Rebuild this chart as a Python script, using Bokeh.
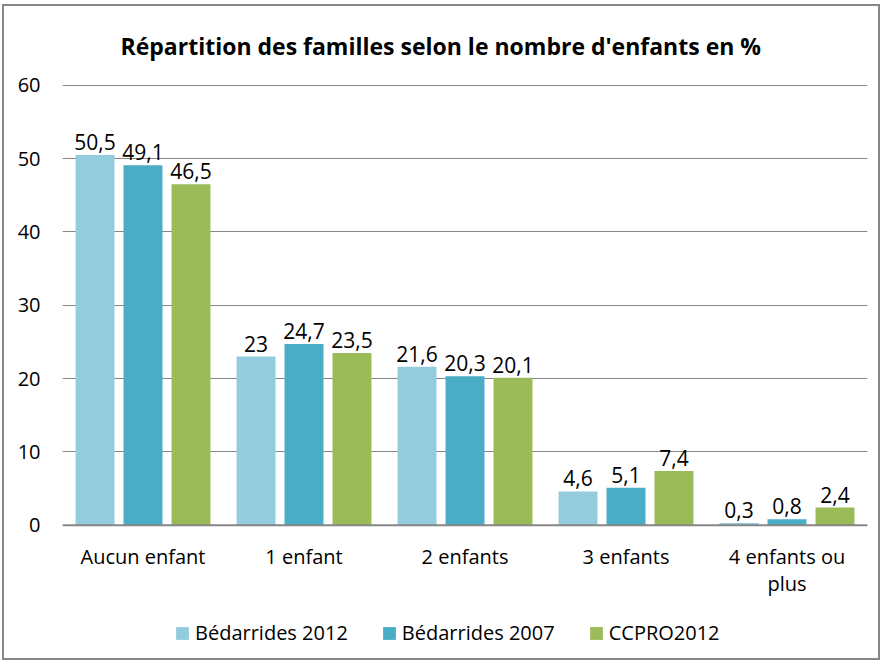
from bokeh.plotting import figure
from bokeh.models import (ColumnDataSource, FactorRange, Range1d, FixedTicker, Legend,
                          LegendItem, Span)
from bokeh.transform import dodge
from bokeh.core.properties import value
from bokeh.embed import file_html
from bokeh.resources import INLINE

categories = ["Aucun enfant", "1 enfant", "2 enfants", "3 enfants", "4 enfants ou plus"]
tick_line1 = ["Aucun enfant", "1 enfant", "2 enfants", "3 enfants", "4 enfants ou"]
tick_line2 = ["", "", "", "", "plus"]
bedarrides_2012 = [50.5, 23, 21.6, 4.6, 0.3]
bedarrides_2007 = [49.1, 24.7, 20.3, 5.1, 0.8]
ccpro_2012 = [46.5, 23.5, 20.1, 7.4, 2.4]
series_names = ["Bédarrides 2012", "Bédarrides 2007", "CCPRO2012"]
y_ticks = [0, 10, 20, 30, 40, 50, 60]
title_text = "Répartition des familles selon le nombre d'enfants en %"

colors = ["#93CDDD", "#4BACC6", "#9BBB59"]
FONT = "Open Sans"

def fmt(v):
    return ("%g" % v).replace(".", ",")

source = ColumnDataSource(dict(
    cat=categories, t1=tick_line1, t2=tick_line2,
    s0=bedarrides_2012, s1=bedarrides_2007, s2=ccpro_2012,
    l0=[fmt(v) for v in bedarrides_2012],
    l1=[fmt(v) for v in bedarrides_2007],
    l2=[fmt(v) for v in ccpro_2012],
))

# frame: 78px below canvas top to canvas bottom (578 px); 440 px per 60 units
p = figure(x_range=FactorRange(*categories, range_padding=0), y_range=Range1d(-18.72, 60.1),
           width=878, height=656, output_backend="svg", toolbar_location=None,
           x_axis_location=None,
           min_border_left=58, min_border_right=15, min_border_top=78, min_border_bottom=0,
           title=title_text)
p.margin = (4, 0, 0, 2)
p.styles = {"border": "2px solid #878787"}
p.outline_line_color = None
p.background_fill_color = "white"

p.title.align = "left"
p.title.vertical_align = "middle"
p.title.offset = 58
p.title.standoff = 44
p.title.text_font = FONT
p.title.text_font_size = "23px"
p.title.text_font_style = "bold"
p.title.text_color = "#000000"

p.ygrid.grid_line_color = "#868686"
p.ygrid.grid_line_width = 1
p.ygrid.ticker = FixedTicker(ticks=y_ticks)
p.xgrid.grid_line_color = None

offsets = [-0.298, 0.0, 0.298]
renderers = []
for i, (off, col) in enumerate(zip(offsets, colors)):
    r = p.vbar(x=dodge("cat", off, range=p.x_range), top="s%d" % i, width=0.242,
               source=source, fill_color=col, line_color=None)
    renderers.append(r)
    p.text(x=dodge("cat", off, range=p.x_range), y="s%d" % i, text="l%d" % i, source=source,
           text_align="center", text_baseline="alphabetic", y_offset=-13,
           text_font=value(FONT), text_font_size="21px", text_color="#000000")

# category axis line and labels
p.add_layout(Span(location=0, dimension="width", line_color="#868686", line_width=2))
p.text(x="cat", y=0, text="t1", source=source, text_align="center",
       text_baseline="alphabetic", y_offset=31, text_font=value(FONT),
       text_font_size="20px", text_color="#000000")
p.text(x="cat", y=0, text="t2", source=source, text_align="center",
       text_baseline="alphabetic", y_offset=58, text_font=value(FONT),
       text_font_size="20px", text_color="#000000")

# value axis
p.yaxis.ticker = FixedTicker(ticks=y_ticks)
p.yaxis.axis_line_color = None
p.yaxis.major_tick_line_color = None
p.yaxis.minor_tick_line_color = None
p.yaxis.major_tick_out = 0
p.yaxis.major_tick_in = 0
p.yaxis.major_label_standoff = 22
p.yaxis.major_label_text_font = FONT
p.yaxis.major_label_text_font_size = "20px"
p.yaxis.major_label_text_color = "#000000"

legend = Legend(items=[LegendItem(label=n, renderers=[r]) for n, r in zip(series_names, renderers)],
                orientation="horizontal", location=(112, 16),
                glyph_width=16, glyph_height=16, label_standoff=5, spacing=33,
                padding=0, margin=0, border_line_color=None, background_fill_alpha=0,
                label_text_font=FONT, label_text_font_size="20px", label_text_color="#000000")
p.add_layout(legend, "center")

open("out.html", "w").write(file_html(p, INLINE))
